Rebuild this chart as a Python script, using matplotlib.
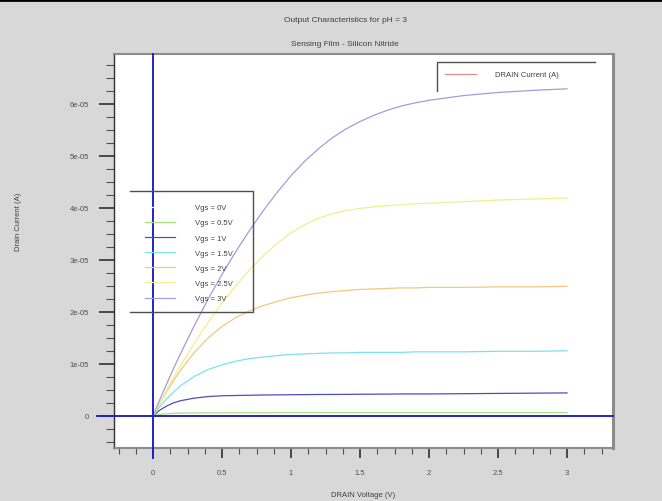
import matplotlib
matplotlib.use("Agg")
import matplotlib.pyplot as plt
from matplotlib.lines import Line2D
from matplotlib.ticker import MultipleLocator
import numpy as np

plt.rcParams['font.family'] = ['Liberation Sans', 'DejaVu Sans']

# drain voltage (V)
vds = [0, 0.05, 0.1, 0.15, 0.2, 0.3, 0.4, 0.5, 0.6, 0.7, 0.8, 0.9, 1.0, 1.1, 1.2, 1.3,
       1.4, 1.5, 1.6, 1.7, 1.8, 1.9, 2.0, 2.25, 2.5, 2.75, 3.0]

# drain current, in units of 1e-5 A
id_0v = [0] * 27
id_05v = [0, 0.025, 0.04, 0.048, 0.052, 0.055, 0.056, 0.057, 0.058, 0.058, 0.058, 0.059, 0.059,
          0.059, 0.059, 0.06, 0.06, 0.06, 0.06, 0.06, 0.06, 0.06, 0.06, 0.06, 0.06, 0.06, 0.06]
id_1v = [0, 0.11, 0.19, 0.25, 0.29, 0.34, 0.37, 0.385, 0.39, 0.395, 0.40, 0.402, 0.405,
         0.407, 0.41, 0.41, 0.412, 0.414, 0.415, 0.417, 0.42, 0.42, 0.42, 0.425, 0.43, 0.435, 0.44]
id_15v = [0, 0.18, 0.33, 0.46, 0.58, 0.76, 0.89, 0.98, 1.05, 1.10, 1.13, 1.16, 1.18,
          1.19, 1.20, 1.21, 1.21, 1.22, 1.22, 1.22, 1.22, 1.23, 1.23, 1.23, 1.24, 1.24, 1.25]
id_2v = [0, 0.24, 0.47, 0.68, 0.88, 1.22, 1.50, 1.72, 1.89, 2.02, 2.12, 2.20, 2.27,
         2.32, 2.36, 2.39, 2.41, 2.43, 2.44, 2.45, 2.46, 2.46, 2.47, 2.47, 2.48, 2.48, 2.49]
id_25v = [0, 0.25, 0.50, 0.74, 0.97, 1.40, 1.80, 2.17, 2.50, 2.81, 3.08, 3.32, 3.52,
          3.68, 3.80, 3.89, 3.95, 3.99, 4.02, 4.04, 4.06, 4.08, 4.09, 4.12, 4.15, 4.17, 4.19]
id_3v = [0, 0.32, 0.62, 0.92, 1.20, 1.74, 2.25, 2.72, 3.16, 3.57, 3.95, 4.30, 4.62,
         4.90, 5.14, 5.35, 5.52, 5.66, 5.78, 5.88, 5.96, 6.02, 6.07, 6.16, 6.22, 6.26, 6.29]

labels = ["Vgs = 0V", "Vgs = 0.5V", "Vgs = 1V", "Vgs = 1.5V", "Vgs = 2V", "Vgs = 2.5V", "Vgs = 3V"]
colors = ["white", "#a6e07e", "#4e4cc2", "#7ae2ee", "#f2c880", "#f2ee8c", "#a89ada"]
curves = [id_0v, id_05v, id_1v, id_15v, id_2v, id_25v, id_3v]

xticks = [0, 0.5, 1, 1.5, 2, 2.5, 3]
xticklabels = ["0", "0.5", "1", "1.5", "2", "2.5", "3"]
yticks = [0, 1e-5, 2e-5, 3e-5, 4e-5, 5e-5, 6e-5]
yticklabels = ["0", "1e-05", "2e-05", "3e-05", "4e-05", "5e-05", "6e-05"]

W, H = 662, 502
fig = plt.figure(figsize=(W / 100, H / 100), dpi=100, facecolor="#d8d8d8")
ax = fig.add_axes([114 / W, 1 - 449 / H, 499 / W, 394 / H])
ax.set_facecolor("white")

def fx(px):
    return px / W

def fy(py):
    return 1 - py / H

handles = []
for cur, lab, col in zip(curves, labels, colors):
    h, = ax.plot(vds, np.array(cur) * 1e-5, color=col, lw=0.9, label=lab)
    handles.append(h)

ax.axhline(0, xmin=-0.035, color="#2222c8", lw=1.4, clip_on=False, zorder=5)
ax.axvline(0, ymin=-0.025, color="#2222c8", lw=1.4, clip_on=False, zorder=5)

ax.set_xlim(-0.283, 3.333)
ax.set_ylim(-0.62e-5, 6.96e-5)
ax.set_xticks(xticks)
ax.set_xticklabels(xticklabels)
ax.set_yticks(yticks)
ax.set_yticklabels(yticklabels)
ax.xaxis.set_minor_locator(MultipleLocator(0.125))
ax.yaxis.set_minor_locator(MultipleLocator(0.25e-5))
ax.tick_params(axis="x", which="major", length=7, width=1.2, pad=8, labelsize=5.5,
               labelcolor="#505050", color="#303030")
ax.tick_params(axis="x", which="minor", length=4, width=0.8, color="#505050")
ax.tick_params(axis="y", which="major", length=11, width=1.2, pad=7, labelsize=5.5,
               labelcolor="#505050", color="#303030")
ax.tick_params(axis="y", which="minor", length=6, width=0.8, color="#505050")

ax.spines["left"].set_color("#303030")
ax.spines["left"].set_linewidth(1)
for s in ["top", "right", "bottom"]:
    ax.spines[s].set_color("#8c8c8c")
ax.spines["top"].set_linewidth(1.5)
ax.spines["right"].set_linewidth(2.2)
ax.spines["bottom"].set_linewidth(1.5)

ax.set_xlabel("DRAIN Voltage (V)", fontsize=5.5, color="#404040")
ax.xaxis.set_label_coords(0.5, -0.108)
ax.set_ylabel("Drain Current (A)", fontsize=5.5, color="#404040")
ax.yaxis.set_label_coords(-0.184, 0.576)

fig.text(fx(345), fy(20), "Output Characteristics for pH = 3", ha="center", va="center",
         fontsize=6, color="#404040")
fig.text(fx(345), fy(44), "Sensing Film - Silicon Nitride", ha="center", va="center",
         fontsize=6, color="#404040")
fig.add_artist(Line2D([0, 1], [fy(1), fy(1)], transform=fig.transFigure, color="black", lw=2))

# Vgs legend
leg1 = ax.legend(handles=handles, loc="upper left", bbox_to_anchor=(fx(145), fy(205)),
                 bbox_transform=fig.transFigure, frameon=False, fontsize=5.5,
                 handlelength=3.9, handletextpad=2.6, labelspacing=1.02,
                 borderpad=0, borderaxespad=0, labelcolor="#404040")
ax.add_artist(leg1)
box = "#505050"
fig.add_artist(Line2D([fx(130), fx(253), fx(253), fx(130)], [fy(192), fy(192), fy(313), fy(313)],
                      transform=fig.transFigure, color=box, lw=1))

# default dataset legend
red = Line2D([], [], color="#e88a8a", lw=0.9)
leg2 = ax.legend(handles=[red], labels=["DRAIN Current (A)"], loc="upper left",
                 bbox_to_anchor=(fx(445), fy(72)), bbox_transform=fig.transFigure,
                 frameon=False, fontsize=5.5, handlelength=4.1, handletextpad=2.4,
                 borderpad=0, borderaxespad=0, labelcolor="#404040")
fig.add_artist(Line2D([fx(437), fx(437), fx(595)], [fy(92), fy(63), fy(63)],
                      transform=fig.transFigure, color=box, lw=1))

fig.savefig("out.png", dpi=100, facecolor=fig.get_facecolor())
